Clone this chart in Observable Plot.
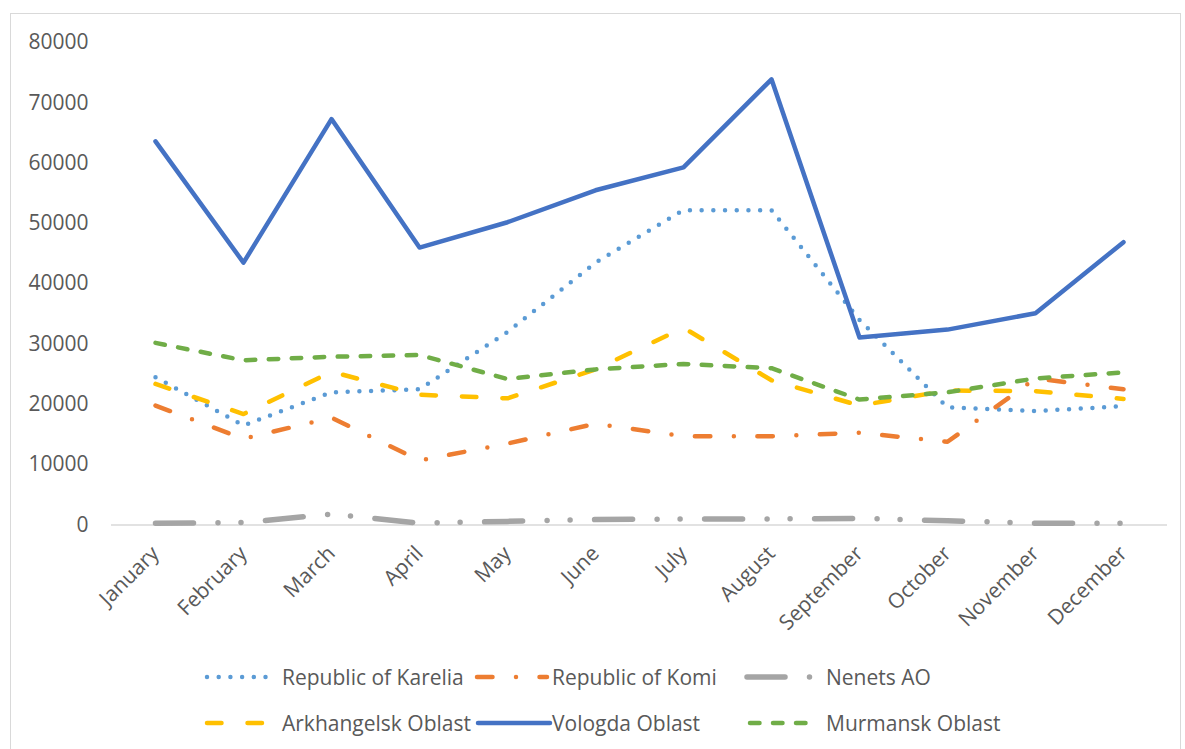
<!DOCTYPE html>
<html><head><meta charset="utf-8">
<script src="https://cdn.jsdelivr.net/npm/d3@7"></script>
<script src="https://cdn.jsdelivr.net/npm/@observablehq/plot@0.6"></script>
<style>
body{margin:0;background:#fff;}
#wrap{position:relative;width:1185px;height:749px;overflow:hidden;font-family:"Open Sans",sans-serif;color:#595959;}
#frame{position:absolute;left:10px;top:13px;width:1171px;height:780px;border:1.5px solid #d9d9d9;box-sizing:border-box;}
#chart{position:absolute;left:0;top:0;}
.item{position:absolute;height:28px;display:flex;align-items:center;font-size:21px;white-space:nowrap;}
</style></head>
<body><div id="wrap"><div id="frame"></div><div id="chart"></div><div id="legend"></div></div>
<script>
const months = ["January","February","March","April","May","June","July","August","September","October","November","December"];
const yTicks = [0,10000,20000,30000,40000,50000,60000,70000,80000];
const seriesNames = ["Republic of Karelia","Republic of Komi","Nenets AO","Arkhangelsk Oblast","Vologda Oblast","Murmansk Oblast"];
const karelia     = [24500,16500,22000,22500,32000,43500,52200,52200,34000,19500,18900,19700];
const komi        = [19800,14300,17800,10700,13500,16800,14700,14700,15300,13800,24300,22500];
const nenets      = [300,400,1800,300,600,900,1000,1000,1100,700,300,300];
const arkhangelsk = [23400,18400,25400,21600,21000,25800,32700,24000,19800,22300,22200,20900];
const vologda     = [63600,43500,67300,46000,50200,55500,59300,73900,31100,32400,35100,46900];
const murmansk    = [30200,27300,27900,28200,24200,25800,26700,26000,20800,22000,24300,25300];

const values = [karelia, komi, nenets, arkhangelsk, vologda, murmansk];
const styles = [
  {color:"#5B9BD5", width:4.5, dash:"0 11.7"},
  {color:"#ED7D31", width:4.5, dash:"15.5 23.5 0 23.5"},
  {color:"#A5A5A5", width:5.5, dash:"38 24.5 0 23 0 24.5"},
  {color:"#FFC000", width:4.5, dash:"14.5 26"},
  {color:"#4472C4", width:4.5, dash:null},
  {color:"#70AD47", width:4.5, dash:"9.5 13.5"}
];
const data = seriesNames.flatMap((name, si) => values[si].map((v, i) => ({series:name, month:months[i], value:v})));

const chart = Plot.plot({
  width:1185, height:650,
  marginLeft:111, marginRight:18, marginTop:42, marginBottom:125.5,
  style:{fontFamily:"'Open Sans', sans-serif", fontSize:"21px", color:"#595959", background:"transparent", overflow:"visible"},
  x:{type:"point", domain:months, padding:0.5, label:null, tickSize:0, tickRotate:-45, tickPadding:25},
  y:{domain:[0,80000], ticks:yTicks, label:null, tickSize:0, tickPadding:23, tickFormat:d=>String(d)},
  marks:[
    Plot.ruleY([0], {stroke:"#d9d9d9", strokeWidth:1.5}),
    ...seriesNames.map((name, si) => Plot.line(data.filter(d => d.series === name), {
      x:"month", y:"value", stroke:styles[si].color, strokeWidth:styles[si].width,
      strokeDasharray:styles[si].dash, strokeLinecap:"round", strokeLinejoin:"round"
    }))
  ]
});
document.getElementById("chart").appendChild(chart);

// legend
const legPos = [
  {x:207, y:677, sw:60}, {x:477, y:677, sw:70}, {x:747, y:677, sw:68},
  {x:207, y:723, sw:60}, {x:478, y:723, sw:72}, {x:750, y:723, sw:65}
];
const textX = [282, 552, 826, 282, 552, 826];
const legend = document.getElementById("legend");
seriesNames.forEach((name, si) => {
  const p = legPos[si], s = styles[si];
  const sw = document.createElementNS("http://www.w3.org/2000/svg","svg");
  sw.setAttribute("width", p.sw + 8); sw.setAttribute("height", 12);
  sw.style.position = "absolute"; sw.style.left = (p.x - 4) + "px"; sw.style.top = (p.y - 6) + "px";
  const ln = document.createElementNS("http://www.w3.org/2000/svg","line");
  ln.setAttribute("x1", 4); ln.setAttribute("x2", p.sw + 4); ln.setAttribute("y1", 6); ln.setAttribute("y2", 6);
  ln.setAttribute("stroke", s.color); ln.setAttribute("stroke-width", s.width);
  ln.setAttribute("stroke-linecap", "round");
  if (s.dash) ln.setAttribute("stroke-dasharray", s.dash);
  sw.appendChild(ln);
  legend.appendChild(sw);
  const t = document.createElement("div");
  t.className = "item"; t.textContent = name;
  t.style.left = textX[si] + "px"; t.style.top = (p.y - 14) + "px";
  legend.appendChild(t);
});
</script></body></html>
